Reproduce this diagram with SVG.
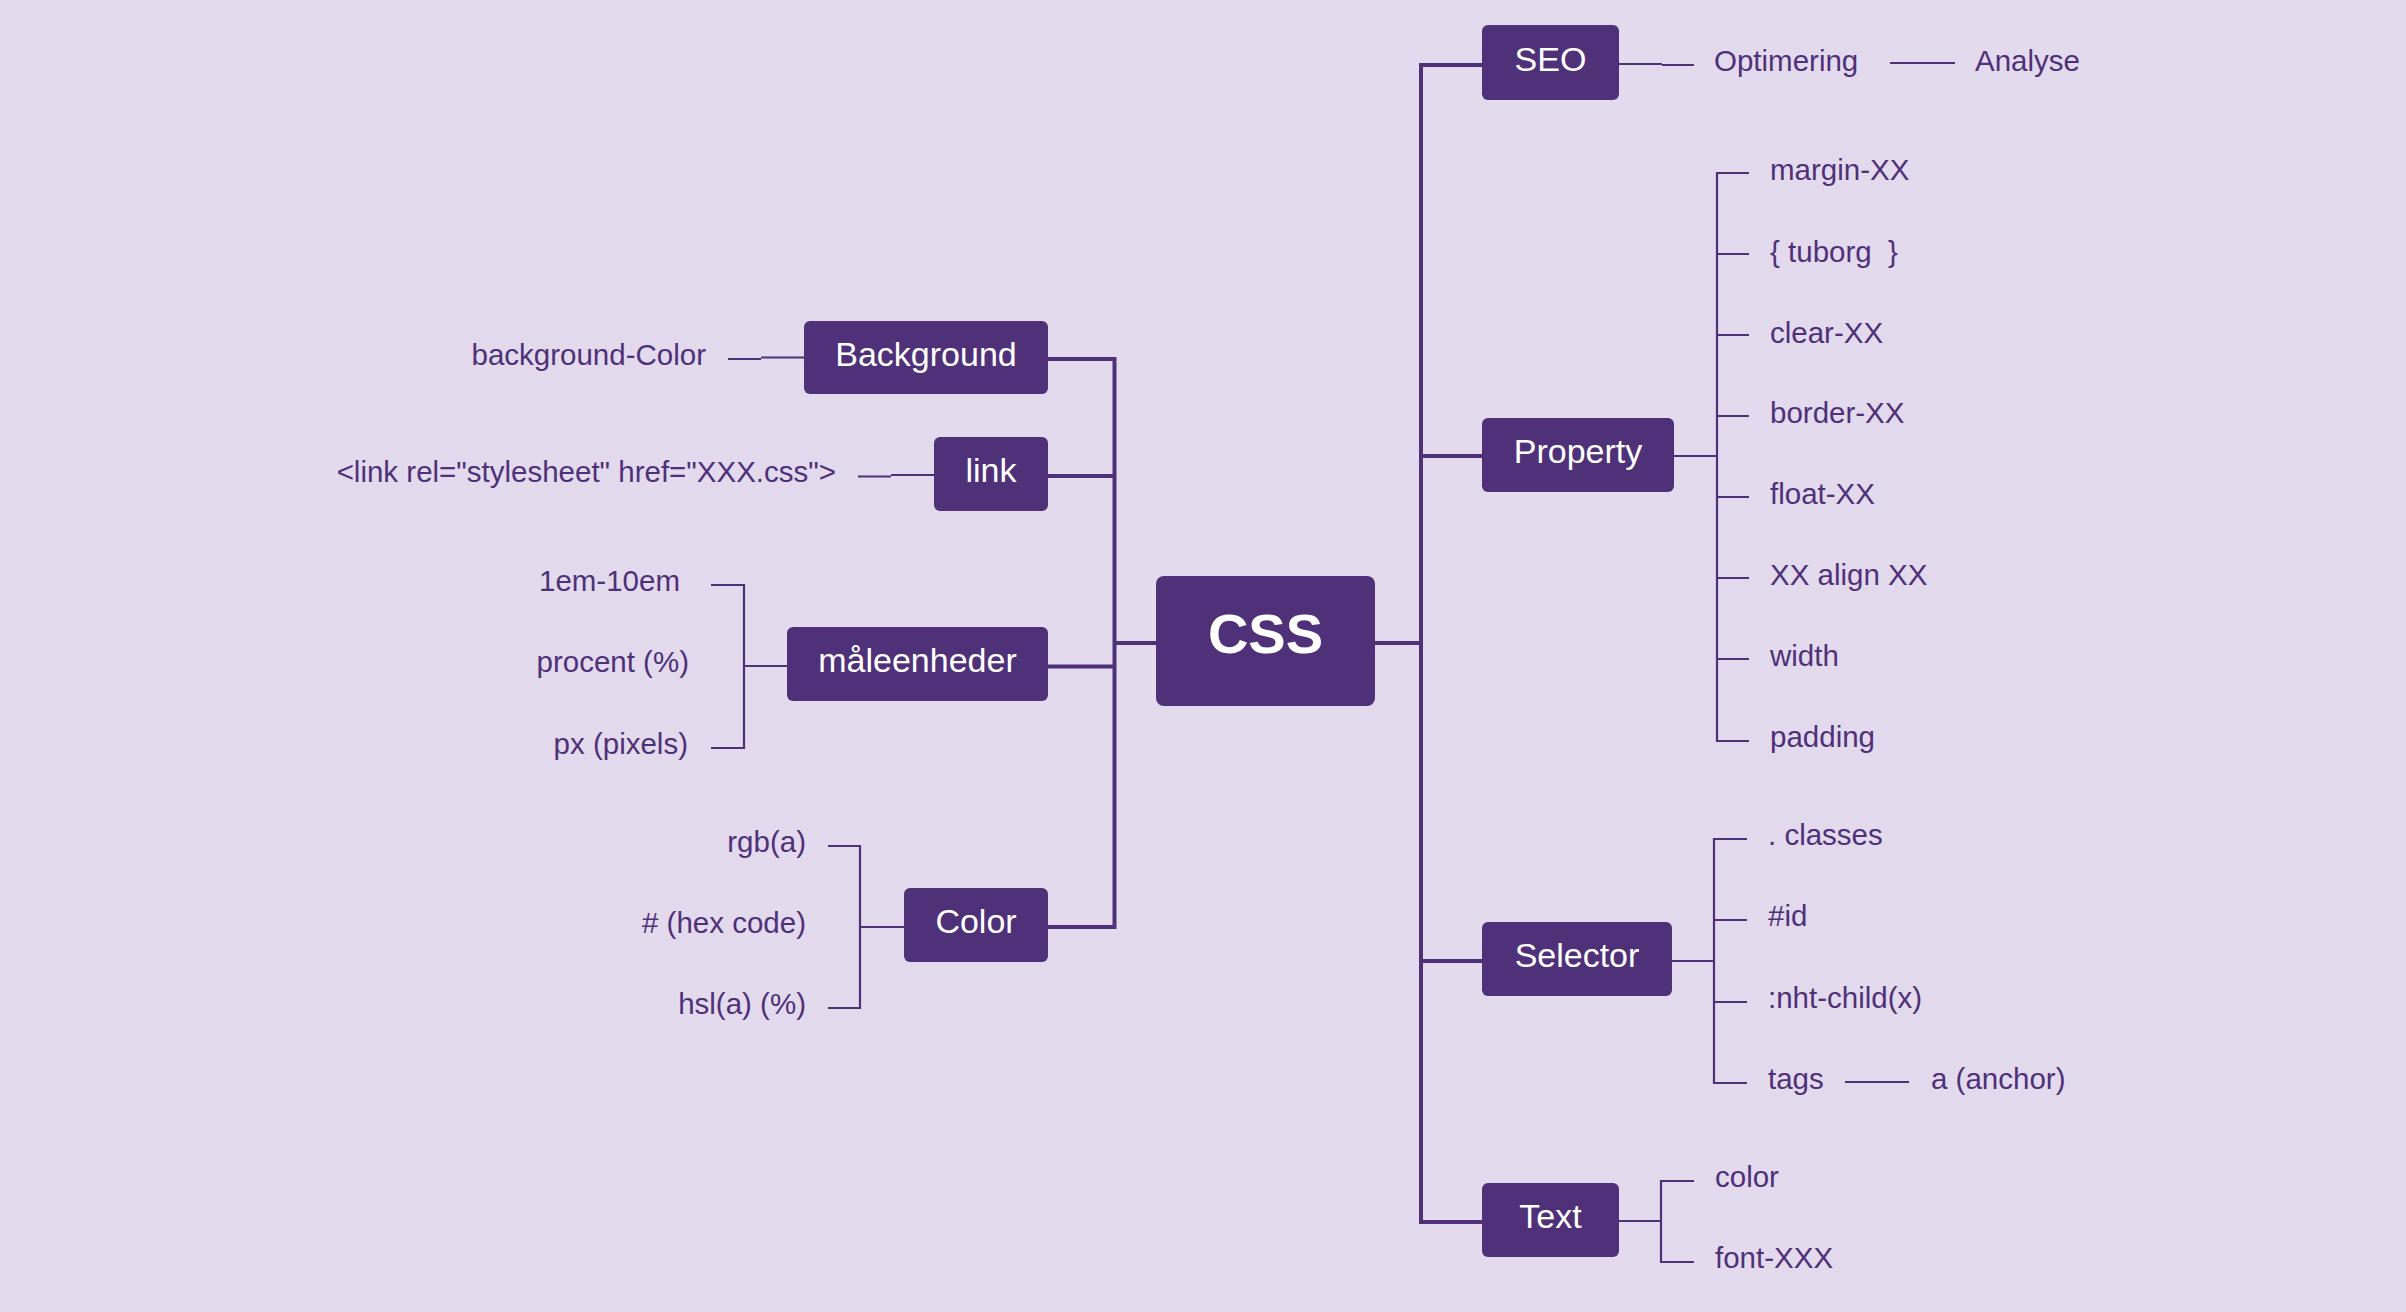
<svg xmlns="http://www.w3.org/2000/svg" width="2406" height="1312" viewBox="0 0 2406 1312">
<style>
.bg{fill:#E3DAEE}
.node rect{fill:#4F3179}
.node text{fill:#FFFFFF;font-family:"Liberation Sans",Arial,sans-serif;font-size:34px;text-anchor:middle}
.node text.main{font-size:56px;font-weight:bold}
.leaf{fill:#4F3179;font-family:"Liberation Sans",Arial,sans-serif;font-size:29.5px}
.leaf.r{text-anchor:end}
.trunk{fill:none;stroke:#4F3179;stroke-width:4;stroke-linejoin:miter}
.thin{fill:none;stroke:#4F3179;stroke-width:2.2;stroke-linejoin:miter}
</style>
<rect class="bg" x="0" y="0" width="2406" height="1312"/>

<g id="connectors">
  <!-- main trunks -->
  <path class="trunk" d="M1048,359 H1114.5 V927 H1048"/>
  <path class="trunk" d="M1048,476 H1114.5"/>
  <path class="trunk" d="M1048,666.5 H1114.5"/>
  <path class="trunk" d="M1114.5,643 H1156"/>
  <path class="trunk" d="M1482,65 H1421 V1222 H1482"/>
  <path class="trunk" d="M1375,643 H1421"/>
  <path class="trunk" d="M1421,456 H1482"/>
  <path class="trunk" d="M1421,961 H1482"/>
  <!-- SEO -->
  <path class="thin" d="M1619,64 H1662 M1662,65 H1694"/>
  <path class="thin" d="M1890,63 H1955"/>
  <!-- Property -->
  <path class="thin" d="M1674,456 H1717"/>
  <path class="thin" d="M1749,173 H1717 V741 H1749"/>
  <path class="thin" d="M1717,254 H1749 M1717,335 H1749 M1717,416 H1749 M1717,497 H1749 M1717,578 H1749 M1717,659 H1749"/>
  <!-- Selector -->
  <path class="thin" d="M1672,961 H1714"/>
  <path class="thin" d="M1747,839 H1714 V1083 H1747"/>
  <path class="thin" d="M1714,920 H1747 M1714,1002 H1747"/>
  <path class="thin" d="M1845,1082 H1909"/>
  <!-- Text -->
  <path class="thin" d="M1619,1221 H1661"/>
  <path class="thin" d="M1694,1181 H1661 V1262 H1694"/>
  <!-- Background -->
  <path class="thin" d="M804,357.5 H761 M761,359 H728"/>
  <!-- link -->
  <path class="thin" d="M934,475 H891 M891,476.5 H858"/>
  <!-- maaleenheder -->
  <path class="thin" d="M787,666 H744"/>
  <path class="thin" d="M711,585 H744 V748 H711"/>
  <!-- Color -->
  <path class="thin" d="M904,927 H860"/>
  <path class="thin" d="M828,846 H860 V1008 H828"/>
</g>

<g id="node-css" class="node"><rect x="1156" y="576" width="219" height="130" rx="8"/><text class="main" x="1265.5" y="653">CSS</text></g>
<g id="node-seo" class="node"><rect x="1482" y="25" width="137" height="75" rx="6"/><text x="1550.5" y="71">SEO</text></g>
<g id="node-property" class="node"><rect x="1482" y="418" width="192" height="74" rx="6"/><text x="1578" y="463">Property</text></g>
<g id="node-selector" class="node"><rect x="1482" y="922" width="190" height="74" rx="6"/><text x="1577" y="967">Selector</text></g>
<g id="node-text" class="node"><rect x="1482" y="1183" width="137" height="74" rx="6"/><text x="1550.5" y="1228">Text</text></g>
<g id="node-background" class="node"><rect x="804" y="321" width="244" height="73" rx="6"/><text x="926" y="366">Background</text></g>
<g id="node-link" class="node"><rect x="934" y="437" width="114" height="74" rx="6"/><text x="991" y="482">link</text></g>
<g id="node-maaleenheder" class="node"><rect x="787" y="627" width="261" height="74" rx="6"/><text x="917.5" y="672">måleenheder</text></g>
<g id="node-color" class="node"><rect x="904" y="888" width="144" height="74" rx="6"/><text x="976" y="933">Color</text></g>

<g id="leaves-seo">
  <text class="leaf" x="1714" y="71">Optimering</text>
  <text class="leaf" x="1975" y="71">Analyse</text>
</g>
<g id="leaves-property">
  <text class="leaf" x="1770" y="180">margin-XX</text>
  <text class="leaf" x="1770" y="262" style="white-space:pre">{ tuborg  }</text>
  <text class="leaf" x="1770" y="343">clear-XX</text>
  <text class="leaf" x="1770" y="423">border-XX</text>
  <text class="leaf" x="1770" y="504">float-XX</text>
  <text class="leaf" x="1770" y="585">XX align XX</text>
  <text class="leaf" x="1770" y="666">width</text>
  <text class="leaf" x="1770" y="747">padding</text>
</g>
<g id="leaves-selector">
  <text class="leaf" x="1768" y="845">. classes</text>
  <text class="leaf" x="1768" y="926">#id</text>
  <text class="leaf" x="1768" y="1008">:nht-child(x)</text>
  <text class="leaf" x="1768" y="1089">tags</text>
  <text class="leaf" x="1931" y="1089">a (anchor)</text>
</g>
<g id="leaves-text">
  <text class="leaf" x="1715" y="1187">color</text>
  <text class="leaf" x="1715" y="1268">font-XXX</text>
</g>
<g id="leaves-left">
  <text class="leaf r" x="706" y="365">background-Color</text>
  <text class="leaf r" x="836" y="482">&lt;link rel="stylesheet" href="XXX.css"&gt;</text>
  <text class="leaf r" x="680" y="591">1em-10em</text>
  <text class="leaf r" x="689" y="672">procent (%)</text>
  <text class="leaf r" x="688" y="754">px (pixels)</text>
  <text class="leaf r" x="806" y="852">rgb(a)</text>
  <text class="leaf r" x="806" y="933"># (hex code)</text>
  <text class="leaf r" x="806" y="1014">hsl(a) (%)</text>
</g>
</svg>
